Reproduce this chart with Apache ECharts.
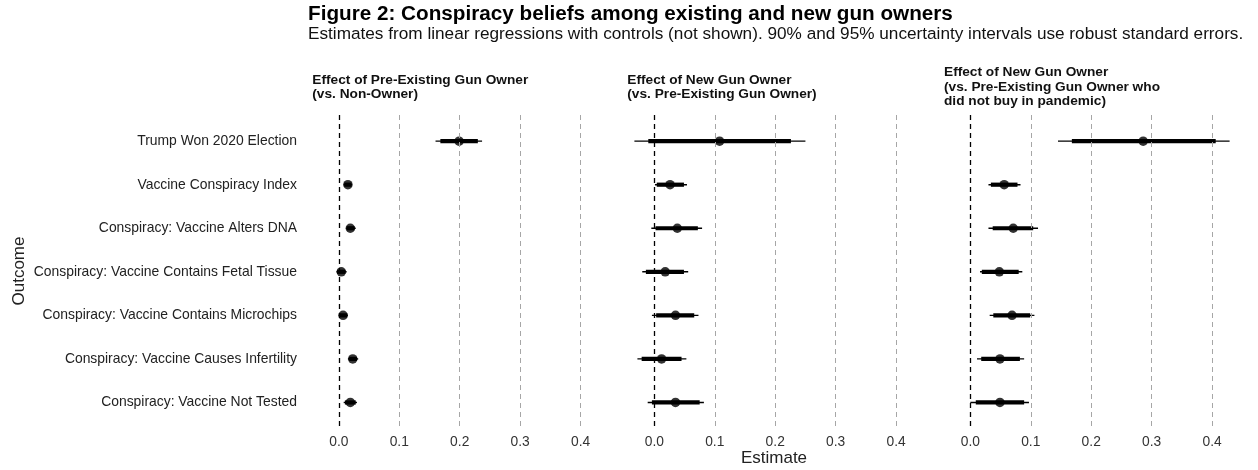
<!DOCTYPE html>
<html>
<head>
<meta charset="utf-8">
<script src="https://cdn.jsdelivr.net/npm/echarts@6/dist/echarts.min.js"></script>
<style>html,body{margin:0;padding:0;background:#fff;}#c{width:1258px;height:470px;}</style>
</head>
<body>
<div id="c"></div>
<script>
// ---- data ----
const categories = [
  'Trump Won 2020 Election',
  'Vaccine Conspiracy Index',
  'Conspiracy: Vaccine Alters DNA',
  'Conspiracy: Vaccine Contains Fetal Tissue',
  'Conspiracy: Vaccine Contains Microchips',
  'Conspiracy: Vaccine Causes Infertility',
  'Conspiracy: Vaccine Not Tested'
];
const panelTitles = [
  'Effect of Pre-Existing Gun Owner\n(vs. Non-Owner)',
  'Effect of New Gun Owner\n(vs. Pre-Existing Gun Owner)',
  'Effect of New Gun Owner\n(vs. Pre-Existing Gun Owner who\ndid not buy in pandemic)'
];
const xTicks = [0.0, 0.1, 0.2, 0.3, 0.4];

// Panel 1: pre-existing owner vs non-owner
const est1  = [0.199, 0.015, 0.019, 0.004, 0.007, 0.023, 0.019];
const lo95_1 = [0.160, 0.008, 0.012, -0.004, 0.000, 0.015, 0.008];
const hi95_1 = [0.237, 0.022, 0.028, 0.013, 0.015, 0.032, 0.030];
const lo90_1 = [0.168, 0.009, 0.013, -0.003, 0.001, 0.017, 0.010];
const hi90_1 = [0.230, 0.021, 0.026, 0.011, 0.014, 0.030, 0.028];

// Panel 2: new owner vs pre-existing owner
const est2  = [0.108, 0.026, 0.038, 0.018, 0.035, 0.012, 0.035];
const lo95_2 = [-0.033, 0.001, -0.005, -0.020, -0.004, -0.028, -0.011];
const hi95_2 = [0.250, 0.054, 0.079, 0.056, 0.073, 0.053, 0.082];
const lo90_2 = [-0.010, 0.004, 0.002, -0.014, 0.003, -0.021, -0.004];
const hi90_2 = [0.226, 0.049, 0.072, 0.049, 0.066, 0.045, 0.075];

// Panel 3: new owner vs pre-existing owner who did not buy in pandemic
const est3  = [0.286, 0.056, 0.071, 0.048, 0.069, 0.049, 0.049];
const lo95_3 = [0.145, 0.030, 0.030, 0.016, 0.032, 0.011, 0.000];
const hi95_3 = [0.429, 0.083, 0.112, 0.086, 0.106, 0.089, 0.097];
const lo90_3 = [0.168, 0.034, 0.037, 0.019, 0.038, 0.018, 0.009];
const hi90_3 = [0.406, 0.078, 0.104, 0.080, 0.099, 0.082, 0.089];

const panels = [
  {est: est1, lo95: lo95_1, hi95: hi95_1, lo90: lo90_1, hi90: hi90_1},
  {est: est2, lo95: lo95_2, hi95: hi95_2, lo90: lo90_2, hi90: hi90_2},
  {est: est3, lo95: lo95_3, hi95: hi95_3, lo90: lo90_3, hi90: hi90_3}
];

// ---- layout ----
const FONT = '"Liberation Sans", Arial, Helvetica, sans-serif';
const gridLefts = [305, 620.5, 936.5];
const gridW = 307, gridTop = 115, gridH = 313.6;
const stripLefts = [312.3, 627.3, 944];
const stripTops = [73, 73, 65.5];
const rowIdx = categories.map((_, i) => i);

function segSeries(gi, lo, hi, w, z) {
  return {
    type: 'custom', xAxisIndex: gi, yAxisIndex: gi, z: z, silent: true,
    encode: {x: [0, 1], y: 2},
    data: rowIdx.map(i => [lo[i], hi[i], i]),
    renderItem: function (params, api) {
      const a = api.coord([api.value(0), api.value(2)]);
      const b = api.coord([api.value(1), api.value(2)]);
      return {type: 'line', shape: {x1: a[0], y1: a[1], x2: b[0], y2: b[1]},
              style: {stroke: '#000', lineWidth: w, lineCap: 'butt'}};
    }
  };
}

const series = [];
panels.forEach((p, gi) => {
  series.push({
    type: 'scatter', xAxisIndex: gi, yAxisIndex: gi, z: 1, silent: true,
    symbolSize: 0, data: rowIdx.map(i => [p.est[i], i]),
    markLine: {
      silent: true, symbol: 'none', label: {show: false},
      animation: false,
      data: xTicks.map(v => v === 0
        ? {xAxis: v, lineStyle: {color: '#000', width: 1.3, type: [5, 4]}}
        : {xAxis: v, lineStyle: {color: '#a6a6a6', width: 1, type: [5, 4]}})
    }
  });
  series.push(segSeries(gi, p.lo95, p.hi95, 1.4, 2));
  series.push(segSeries(gi, p.lo90, p.hi90, 4.2, 3));
  series.push({
    type: 'scatter', xAxisIndex: gi, yAxisIndex: gi, z: 4, silent: true,
    symbol: 'circle', symbolSize: 9.5, itemStyle: {color: '#000'},
    data: rowIdx.map(i => [p.est[i], i])
  });
});

const option = {
  animation: false,
  textStyle: {fontFamily: FONT},
  title: [
    {text: 'Figure 2: Conspiracy beliefs among existing and new gun owners', left: 308, top: 4, padding: 0,
     textStyle: {fontFamily: FONT, fontSize: 20.7, fontWeight: 'bold', color: '#000'}},
    {text: 'Estimates from linear regressions with controls (not shown). 90% and 95% uncertainty intervals use robust standard errors.',
     left: 308, top: 26, padding: 0,
     textStyle: {fontFamily: FONT, fontSize: 17.2, fontWeight: 'normal', color: '#111'}}
  ].concat(panelTitles.map((t, i) => ({
    text: t, left: stripLefts[i], top: stripTops[i], padding: 0,
    textStyle: {fontFamily: FONT, fontSize: 13.7, fontWeight: 'bold', lineHeight: 14.4, color: '#111'}
  }))),
  grid: gridLefts.map(l => ({left: l, top: gridTop, width: gridW, height: gridH, containLabel: false})),
  xAxis: gridLefts.map((_, gi) => ({
    gridIndex: gi, type: 'value', min: -0.056, max: 0.452,
    axisLine: {show: false}, axisTick: {show: false}, splitLine: {show: false},
    axisLabel: {customValues: xTicks, formatter: v => Number(v).toFixed(1),
                color: '#333', fontSize: 13.8, margin: 7, fontFamily: FONT}
  })),
  yAxis: gridLefts.map((_, gi) => ({
    gridIndex: gi, type: 'value', min: -0.6, max: 6.6, inverse: true,
    axisLine: {show: false}, axisTick: {show: false}, splitLine: {show: false},
    axisLabel: gi === 0
      ? {customValues: rowIdx, formatter: v => categories[Math.round(v)],
         color: '#222', fontSize: 13.9, margin: 8, fontFamily: FONT}
      : {show: false}
  })),
  graphic: [
    {type: 'text', x: 19, y: 271, rotation: Math.PI / 2,
     style: {text: 'Outcome', font: '17px ' + FONT, fill: '#222', align: 'center', verticalAlign: 'middle'}},
    {type: 'text', x: 774, y: 458,
     style: {text: 'Estimate', font: '17px ' + FONT, fill: '#222', align: 'center', verticalAlign: 'middle'}}
  ],
  series: series
};

const chart = echarts.init(document.getElementById('c'), null, {renderer: 'canvas'});
chart.setOption(option);
</script>
</body>
</html>
